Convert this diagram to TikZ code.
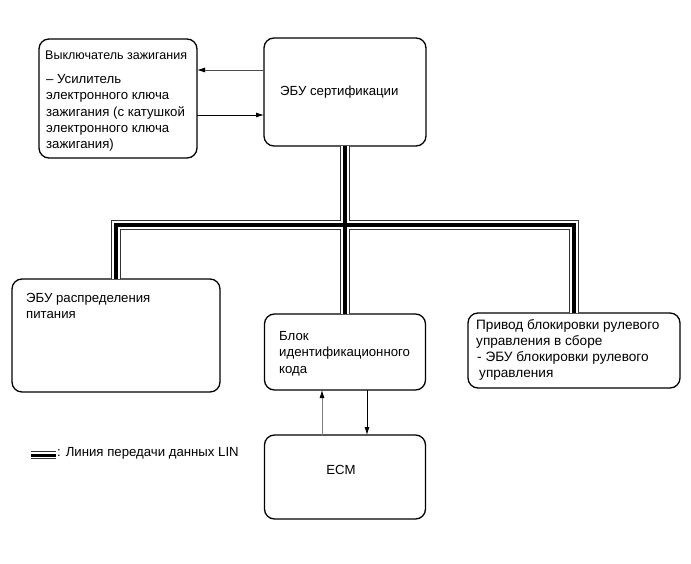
\documentclass[tikz,border=0pt]{standalone}
\usepackage{fontspec}
\setmainfont{Liberation Sans}
\usetikzlibrary{arrows.meta}
\begin{document}
\begin{tikzpicture}[x=1pt,y=-1pt,
  box/.style={draw=black, line width=1.3, rounded corners=10, fill=white, inner sep=0pt, outer sep=0pt},
  txt/.style={anchor=base west, inner sep=0pt, font=\fontsize{13.2}{15}\selectfont},
  arr/.style={line width=0.8, -{Latex[length=8,width=5,color=black]}},
  ]
\useasboundingbox[fill=white] (0,0) rectangle (691,564);

\coordinate (hub) at (345,225);
\node[box, minimum width=158, minimum height=119] (ign) at (118,98.5) {};
\node[box, minimum width=162, minimum height=108] (cert) at (345,92) {};
\node[box, minimum width=208, minimum height=113] (lft) at (116,335.5) {};
\node[box, minimum width=161, minimum height=76] (mid) at (345,352) {};
\node[box, minimum width=212, minimum height=75] (rgt) at (574,350.5) {};
\node[box, minimum width=161, minimum height=84] (ecm) at (345,477) {};

% LIN bus
\foreach \w/\c in {10.5/black!80, 8.5/white, 4/black}{
  \draw[line width=\w, draw=\c] (cert.south) -- (mid.north);
  \draw[line width=\w, draw=\c, line join=miter] (lft.north) -- (lft.north |- hub) -- (rgt.north |- hub) -- (rgt.north);
}
\coordinate (la) at (31,455);
\coordinate (lb) at (56,455);
\foreach \w/\c in {8/black!80, 6.2/white, 3/black}{
  \draw[line width=\w, draw=\c] (la) -- (lb);
}

% arrows
\draw[arr, draw=black!70] (cert.west |- 0,70) -- (ign.east |- 0,70);
\draw[arr] (ign.east |- 0,115) -- (cert.west |- 0,115);
\draw[arr, draw=black!50] (ecm.north -| 322,0) -- (mid.south -| 322,0);
\draw[arr] (mid.south -| 367,0) -- (ecm.north -| 367,0);

% texts
\node[txt, font=\fontsize{12.5}{15}\selectfont] (t1a) at (45,60) {Выключатель зажигания};
\node[txt] (t1b) at (46,84) {– Усилитель};
\node[txt] (t1c) at (46,100) {электронного ключа};
\node[txt] (t1d) at (46,116.3) {зажигания (с катушкой};
\node[txt] (t1e) at (46,132.5) {электронного ключа};
\node[txt] (t1f) at (46,148.5) {зажигания)};

\node[txt] (t2) at (280,96) {ЭБУ сертификации};

\node[txt] (t3a) at (26,302) {ЭБУ распределения};
\node[txt] (t3b) at (26,318) {питания};

\node[txt] (t4a) at (279,340) {Блок};
\node[txt] (t4b) at (279,356.5) {идентификационного};
\node[txt] (t4c) at (279,373) {кода};

\begin{scope}[txt/.append style={font=\fontsize{13.6}{15}\selectfont}]
\node[txt] (t5a) at (476,329) {Привод блокировки рулевого};
\node[txt] (t5b) at (476,345) {управления в сборе};
\node[txt] (t5c) at (477,361) { - ЭБУ блокировки рулевого};
\node[txt] (t5d) at (479,377) {управления};
\end{scope}

\node[inner sep=0pt, font=\fontsize{13.2}{15}\selectfont] (t6) at (341,470) {ECM};

\node[txt] (t7) at (57,456) {: Линия передачи данных LIN};
\end{tikzpicture}
\end{document}
